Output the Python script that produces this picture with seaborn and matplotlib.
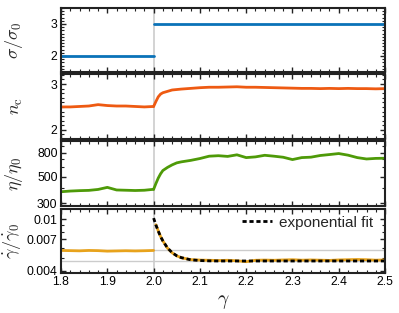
import matplotlib
matplotlib.use("Agg")
import matplotlib.pyplot as plt
import matplotlib.ticker as mticker
import seaborn as sns

# strain axis, before and after the stress step at gamma = 2
gamma_pre = [1.80, 1.82, 1.84, 1.86, 1.88, 1.90, 1.92, 1.94, 1.96, 1.98, 2.00]
gamma_post = [2.00, 2.005, 2.01, 2.015, 2.02, 2.03, 2.04, 2.05, 2.06, 2.08,
              2.10, 2.12, 2.14, 2.16, 2.18, 2.20, 2.22, 2.24, 2.26, 2.28,
              2.30, 2.32, 2.34, 2.36, 2.38, 2.40, 2.42, 2.44, 2.46, 2.48, 2.50]

# stress
sigma_pre = [2, 2, 2, 2, 2, 2, 2, 2, 2, 2, 2]
sigma_post = [3] * 31

# contact number
nc_pre = [2.50, 2.50, 2.51, 2.52, 2.55, 2.53, 2.52, 2.52, 2.51, 2.50, 2.51]
nc_post = [2.51, 2.62, 2.72, 2.78, 2.81, 2.84, 2.87, 2.88, 2.89, 2.905,
           2.92, 2.93, 2.93, 2.935, 2.94, 2.93, 2.93, 2.925, 2.92, 2.915,
           2.91, 2.905, 2.905, 2.90, 2.905, 2.90, 2.905, 2.90, 2.90, 2.895, 2.90]

# viscosity
eta_pre = [375, 380, 383, 385, 392, 408, 388, 386, 384, 386, 393]
eta_post = [393, 440, 488, 530, 565, 600, 630, 655, 668, 687,
            712, 745, 752, 742, 765, 725, 735, 758, 745, 730,
            698, 725, 731, 755, 769, 784, 760, 725, 706, 714, 716]

# shear rate
rate_pre = [0.00574, 0.00572, 0.00570, 0.00574, 0.00572, 0.00567, 0.00569,
            0.00571, 0.00569, 0.00571, 0.00574]
rate_post = [0.0097, 0.00906, 0.00812, 0.00736, 0.00680, 0.00598, 0.00550,
             0.00522, 0.00504, 0.00488, 0.00484, 0.00482, 0.00480, 0.00482,
             0.00478, 0.00470, 0.00482, 0.00484, 0.00482, 0.00485, 0.00487,
             0.00483, 0.00485, 0.00483, 0.00481, 0.00485, 0.00487, 0.00489,
             0.00487, 0.00483, 0.00485]
fit_rate = [0.0102, 0.0090, 0.0081, 0.00735, 0.0068, 0.0060, 0.00552,
            0.00522, 0.00505, 0.00486, 0.0048, 0.00477] + [0.00476] * 19
rate_levels = [0.00574, 0.00476]

sns.set_style("ticks")
plt.rcParams['font.family'] = ['Liberation Sans', 'DejaVu Sans']
plt.rcParams['mathtext.fontset'] = 'cm'

fig = plt.figure(figsize=(3.99, 3.13), dpi=100)
left, width = 0.153, 0.812
ax1 = fig.add_axes([left, 0.770, width, 0.2045])
ax2 = fig.add_axes([left, 0.556, width, 0.2077])
ax3 = fig.add_axes([left, 0.342, width, 0.2077])
ax4 = fig.add_axes([left, 0.128, width, 0.2045])
axes = [ax1, ax2, ax3, ax4]

blue, orange, green, yellow = "#0a72b8", "#ee5a12", "#4e9a08", "#e8a31c"

sns.lineplot(x=gamma_pre, y=sigma_pre, ax=ax1, color=blue, lw=2)
sns.lineplot(x=gamma_post, y=sigma_post, ax=ax1, color=blue, lw=2)
sns.lineplot(x=gamma_pre, y=nc_pre, ax=ax2, color=orange, lw=2)
sns.lineplot(x=gamma_post, y=nc_post, ax=ax2, color=orange, lw=2)
sns.lineplot(x=gamma_pre, y=eta_pre, ax=ax3, color=green, lw=2)
sns.lineplot(x=gamma_post, y=eta_post, ax=ax3, color=green, lw=2)

for lvl in rate_levels:
    ax4.axhline(lvl, color="#cccccc", lw=1, zorder=0)
sns.lineplot(x=gamma_pre, y=rate_pre, ax=ax4, color=yellow, lw=2)
sns.lineplot(x=gamma_post[1:], y=rate_post[1:], ax=ax4, color=yellow, lw=2)
sns.lineplot(x=gamma_post, y=fit_rate, ax=ax4, color="black", lw=2,
             linestyle=(0, (1.5, 1)), label="exponential fit")
ax4.legend(loc="upper right", bbox_to_anchor=(0.985, 1.0), frameon=False,
           fontsize=11, handlelength=2.0, borderaxespad=0.15,
           borderpad=0.3, handletextpad=0.45)

ax1.set_ylim(1.5, 3.5)
ax1.set_yticks([2, 3])
ax1.yaxis.set_minor_locator(mticker.MultipleLocator(0.1))
ax2.set_ylim(1.8, 3.22)
ax2.set_yticks([2, 3])
ax2.yaxis.set_minor_locator(mticker.MultipleLocator(0.1))
ax3.set_yscale("log")
ax3.set_ylim(285, 1000)
ax3.set_yticks([300, 500, 800])
ax3.yaxis.set_major_formatter(mticker.FormatStrFormatter("%d"))
ax3.yaxis.set_minor_formatter(mticker.NullFormatter())
ax4.set_yscale("log")
ax4.set_ylim(0.00385, 0.012)
ax4.set_yticks([0.004, 0.007, 0.01])
ax4.set_yticklabels(["0.004", "0.007", "0.01"])
ax4.yaxis.set_minor_formatter(mticker.NullFormatter())

labels = [r"$\sigma/\sigma_0$", r"$n_\mathrm{c}$", r"$\eta/\eta_0$",
          r"$\dot{\gamma}/\dot{\gamma}_0$"]
label_x = [-0.11, -0.11, -0.11, -0.115]
for ax, lab, lx in zip(axes, labels, label_x):
    ax.axvline(2.0, color="#cccccc", lw=1.2, zorder=0)
    ax.set_xlim(1.8, 2.5)
    ax.xaxis.set_major_locator(mticker.MultipleLocator(0.1))
    ax.xaxis.set_minor_locator(mticker.MultipleLocator(0.02))
    ax.set_ylabel(lab, fontsize=13)
    ax.yaxis.set_label_coords(lx, 0.5)
    ax.tick_params(which="both", direction="in", top=True, right=True,
                   labelsize=8.8, colors="#222222", labelcolor="black")
    ax.tick_params(which="major", length=3.5, width=1, pad=2.5)
    ax.tick_params(which="minor", length=2, width=0.8)
    for sp in ax.spines.values():
        sp.set_linewidth(1.5)
        sp.set_color("#222222")
    if ax is not ax4:
        ax.set_xticklabels([])
    ax.set_xlabel("")

ax4.xaxis.set_major_formatter(mticker.FormatStrFormatter("%.1f"))
ax4.set_xlabel(r"$\gamma$", fontsize=14, labelpad=3)

fig.savefig("out.png", dpi=100)
